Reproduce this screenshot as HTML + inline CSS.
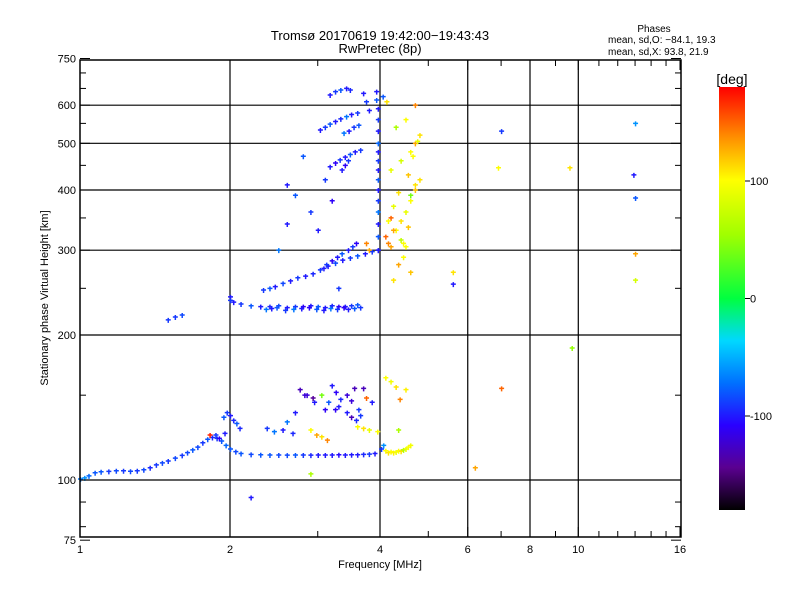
<!DOCTYPE html>
<html><head><meta charset="utf-8"><style>
body{margin:0;background:#fff;}
svg text{font-family:"Liberation Sans",sans-serif;fill:#000;}
</style></head><body>
<svg id="chart" width="800" height="600" viewBox="0 0 800 600" xmlns="http://www.w3.org/2000/svg">
<defs>
<linearGradient id="cbar" x1="0" y1="1" x2="0" y2="0">
<stop offset="0" stop-color="#000000"/><stop offset="0.1" stop-color="#5a0090"/><stop offset="0.2" stop-color="#2a00ff"/>
<stop offset="0.3" stop-color="#0070ff"/><stop offset="0.4" stop-color="#00d8ff"/><stop offset="0.5" stop-color="#00ff40"/>
<stop offset="0.65" stop-color="#a0ff00"/><stop offset="0.78" stop-color="#ffff00"/><stop offset="0.88" stop-color="#ff9000"/><stop offset="1" stop-color="#ff0000"/>
</linearGradient>
</defs>
<text x="380" y="40" font-size="13" text-anchor="middle">Tromsø 20170619 19:42:00−19:43:43</text>
<text x="380" y="53" font-size="13" text-anchor="middle">RwPretec (8p)</text>
<text x="654" y="32" font-size="10" text-anchor="middle">Phases</text>
<text x="608" y="43" font-size="10">mean, sd,O: −84.1, 19.3</text>
<text x="608" y="55" font-size="10">mean, sd,X:  93.8, 21.9</text>
<g id="grid"></g>
<g id="points"></g>
<rect x="80" y="60" width="601" height="477" fill="none" stroke="#000" stroke-width="1.5"/>
<g id="ticks"></g>
<text x="380" y="568" font-size="11" text-anchor="middle">Frequency [MHz]</text>
<text transform="translate(48,298) rotate(-90)" font-size="11" text-anchor="middle">Stationary phase Virtual Height [km]</text>
<rect x="719" y="87" width="26" height="423" fill="url(#cbar)"/>
<text x="732" y="84" font-size="14" text-anchor="middle">[deg]</text>
<g id="cbticks"></g>
</svg>
<script>
const xTicks=[1,2,4,6,8,10,16];
const xGrid=[2,4,6,8,10];
const yTicks=[75,100,200,300,400,500,600,750];
const yGrid=[100,200,300,400,500,600];
const cbTicks=[100,0,-100];
// data points: frequency (MHz), height (km), phase (deg)
const freq=[1.00,1.02,1.04,1.07,1.10,1.14,1.18,1.22,1.26,1.30,1.34,1.38,1.42,1.46,1.50,1.55,1.60,1.64,1.68,1.72,1.76,1.80,1.84,1.88,1.92,1.96,2.00,2.05,2.10,2.20,2.30,2.40,2.50,2.60,2.70,2.80,2.90,3.00,3.10,3.20,3.30,3.40,3.50,3.60,3.70,3.80,3.90,
2.00,2.03,2.06,2.09,1.97,1.95,1.94,1.82,1.87,1.90,
4.02,4.06,4.10,4.15,4.20,4.25,4.30,4.35,4.40,4.45,4.50,4.55,4.60,
2.37,2.45,2.55,2.67,2.90,2.98,3.05,3.13,2.76,2.82,2.93,3.20,3.26,3.33,3.43,3.43,3.50,3.58,3.65,3.60,3.70,3.80,3.95,4.10,4.20,4.30,4.50,4.38,4.35,3.25,3.15,3.05,2.70,2.60,3.55,3.75,
2.33,2.40,2.46,2.55,2.64,2.73,2.83,2.93,3.03,3.14,3.25,3.36,3.48,3.60,3.73,3.85,3.96,
2.03,2.10,2.20,2.30,2.40,2.50,2.60,2.70,2.80,2.90,3.00,3.10,3.20,3.30,3.40,3.50,3.60,
3.96,3.96,3.96,3.96,3.96,3.96,3.96,3.96,3.96,3.96,3.96,3.96,3.96,3.96,3.93,3.93,
3.03,3.10,3.17,3.25,3.33,3.42,3.50,3.60,3.17,3.25,3.32,3.40,3.48,3.56,3.65,3.17,3.25,3.33,3.42,3.48,3.70,3.75,3.80,
4.10,4.15,4.20,4.30,4.40,4.50,4.60,4.70,4.80,4.20,4.40,4.60,4.70,4.80,4.30,4.50,4.70,4.05,4.12,4.20,4.25,4.40,4.50,3.75,3.80,4.45,4.60,4.60,4.70,
7.0,6.9,9.6,13.0,12.9,13.0,13.0,13.0,9.7,5.6,5.6,7.0,6.2,2.2,2.9,1.50,1.55,1.60,2.00,2.00,2.60,2.70,2.90,3.00,2.80,3.10,3.20,2.50,2.60,3.30,
2.36,2.42,2.48,2.58,2.68,2.78,2.88,2.98,3.08,3.18,3.28,3.38,3.45,3.55,3.65,3.08,3.12,3.20,3.28,3.35,3.45,3.52,3.58,3.38,3.46,3.54,3.62,3.35,3.40,3.45,
2.85,2.95,3.10,3.30,3.50,3.62,3.70,3.85,4.15,4.25,4.35,4.55,4.65,4.75,4.25,4.35,4.45,4.55];
const height=[100.5,101,102,103.5,104,104.2,104.5,104.5,104.3,104.5,105,106,107.5,108.5,109.5,111,112.5,114,115.5,117,119.5,121.5,122.5,122,120.5,118,116,114.5,113.5,113,112.8,112.7,112.7,112.6,112.7,112.7,112.6,112.7,112.7,112.7,112.8,112.7,112.8,112.8,113,113.2,113.5,
136,133,131,128,138,125,135,124,124,122,
116,118,115,114,114.5,114,114.3,115,114.7,115.5,116,117,118,
128,126,127,125,127,124,123,121,154,150,148,157,152,147,150,138,135,133,136,129,128,127,126,163,160,156,154,147,127,140,145,150,138,132,155,148,
248,250,252,256,259,263,265,268,273,278,282,286,289,292,295,298,300,
234,232,230,229,229,230,228,229,229,230,229,228,230,229,229,230,231,
300,320,340,360,380,400,420,440,460,480,500,530,560,590,615,640,
533,540,548,555,562,568,574,578,447,455,462,468,474,480,484,630,640,645,650,645,635,610,585,
320,310,305,330,345,360,380,400,420,440,460,480,500,520,540,560,600,625,610,350,330,315,305,310,300,290,270,390,410,
530,445,445,550,430,385,295,260,188,270,255,155,106,92,103,215,218,220,240,236,410,390,360,330,470,420,380,300,340,250,
226,227,228,225,226,227,228,226,225,227,226,228,226,227,228,275,280,285,290,295,300,305,310,525,530,540,545,440,450,460,
150,145,140,142,146,140,155,145,345,370,395,430,470,505,260,280,310,335];
const phase=[-70,-60,-75,-80,-80,-90,-85,-90,-85,-90,-85,-95,-90,-85,-90,-85,-90,-85,-80,-85,-90,-80,-95,-90,-80,-75,-80,-85,-80,-85,-80,-80,-85,-85,-80,-90,-95,-100,-100,-100,-105,-100,-100,-100,-95,-90,-100,
-100,-95,-80,-95,-90,-100,-80,170,-90,-110,
-90,-60,100,110,100,105,95,100,110,60,90,100,95,
-90,-70,-100,-95,100,130,110,140,-130,-120,-140,-100,-110,-95,-120,-100,-130,-95,-90,100,110,90,100,100,95,110,105,140,60,-110,-80,40,-100,-70,-130,150,
-90,-80,-100,-85,-100,-90,-100,-95,-90,-100,-85,-100,-90,-80,-100,-90,-95,
-100,-90,-80,-100,-95,-85,-100,-90,-110,-100,-80,-100,-95,-110,-100,-90,-80,
-100,-80,-100,-70,-90,-100,-80,-100,-90,-100,-75,-100,-90,-100,-80,-100,
-100,-90,-80,-100,-95,-70,-100,-90,-100,-110,-90,-100,-80,-100,-90,-100,-90,-80,-100,-95,-100,-90,-100,
150,140,130,100,110,90,100,120,110,90,80,100,130,110,60,100,140,-80,110,150,130,70,100,140,130,100,120,40,110,
-90,100,110,-60,-100,-80,130,80,50,110,-100,150,130,-100,60,-90,-90,-85,-100,-90,-100,-80,-90,-100,-80,-90,-110,-70,-100,-90,
-70,-100,-80,-90,-70,-100,-110,-80,-100,-70,-90,-110,-100,-80,-90,-100,-90,-110,-100,-80,-100,-90,-110,-70,-100,-90,-80,-100,-110,-90,
-120,-100,-110,-100,-120,-90,-130,-100,100,90,110,120,100,90,110,130,100,120];

const X=f=>80+150*Math.log2(f);
const Y=h=>480-145*Math.log2(h/100);
const CB=p=>298.5-p*(423/360);
const NS="http://www.w3.org/2000/svg";
function mk(tag,attrs,parent){const e=document.createElementNS(NS,tag);for(const k in attrs)e.setAttribute(k,attrs[k]);parent.appendChild(e);return e;}
const stops=[[0,[0,0,0]],[0.1,[90,0,144]],[0.2,[42,0,255]],[0.3,[0,112,255]],[0.4,[0,216,255]],[0.5,[0,255,64]],[0.65,[160,255,0]],[0.78,[255,255,0]],[0.88,[255,144,0]],[1,[255,0,0]]];
function color(p){let t=Math.max(0,Math.min(1,(p+180)/360));for(let i=1;i<stops.length;i++){if(t<=stops[i][0]){const a=stops[i-1],b=stops[i],u=(t-a[0])/(b[0]-a[0]);const c=a[1].map((v,j)=>Math.round(v+(b[1][j]-v)*u));return `rgb(${c[0]},${c[1]},${c[2]})`;}}return 'rgb(255,0,0)';}
const grid=document.getElementById('grid'),ticks=document.getElementById('ticks'),pts=document.getElementById('points'),cbt=document.getElementById('cbticks');
xGrid.forEach(v=>{const l=mk('line',{x1:X(v),x2:X(v),y1:60,y2:537,stroke:'#000','stroke-width':1.2},grid);

});
yGrid.forEach(v=>{const l=mk('line',{x1:80,x2:681,y1:Y(v),y2:Y(v),stroke:'#000','stroke-width':1.2},grid);

});
for(let f=1;f<=16;f++){const big=xTicks.includes(f);const len=big?10:6;
mk('line',{x1:X(f),x2:X(f),y1:537,y2:537-len,stroke:'#000'},ticks);mk('line',{x1:X(f),x2:X(f),y1:60,y2:60+len,stroke:'#000'},ticks);}
xTicks.forEach(v=>{const t=mk('text',{x:X(v),y:553,'font-size':11,'text-anchor':'middle'},ticks);t.textContent=v;

});
[75,80,90,100,150,200,250,300,350,400,450,500,550,600,650,700,750].forEach(h=>{const len=yTicks.includes(h)?10:6;
mk('line',{x1:80,x2:80+len,y1:Y(h),y2:Y(h),stroke:'#000'},ticks);mk('line',{x1:681,x2:681-len,y1:Y(h),y2:Y(h),stroke:'#000'},ticks);});
yTicks.forEach(v=>{const t=mk('text',{x:76,y:Y(v)+4,'font-size':11,'text-anchor':'end'},ticks);t.textContent=v;

});
cbTicks.forEach(v=>{mk('line',{x1:745,x2:750,y1:CB(v),y2:CB(v),stroke:'#000'},cbt);const t=mk('text',{x:750,y:CB(v)+4,'font-size':11},cbt);t.textContent=v;

});
for(let i=0;i<freq.length;i++){const x=X(freq[i]),y=Y(height[i]),c=color(phase[i]);
const p=mk('path',{d:`M${x-2} ${y}h5M${x+0.5} ${y-2}v5`,stroke:c,'stroke-width':1.5},pts);

}
</script>
</body></html>
